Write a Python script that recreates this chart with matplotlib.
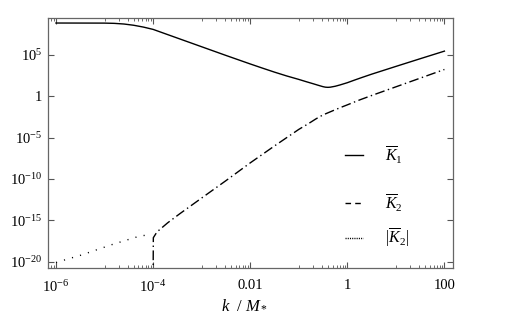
import matplotlib
matplotlib.use('Agg')
import matplotlib.pyplot as plt
import numpy as np

plt.rcParams['font.family'] = 'Liberation Serif'
plt.rcParams['mathtext.fontset'] = 'custom'
plt.rcParams['mathtext.rm'] = 'Liberation Serif'
plt.rcParams['mathtext.it'] = 'Liberation Serif:italic'

# values, as log10
k1_logk = [-6.0, -5.0, -4.8, -4.6, -4.4, -4.2, -4.0, -3.5, -3.0, -2.5, -2.0,
           -1.75, -1.5, -1.25, -1.0, -0.85, -0.7, -0.6, -0.5, -0.45, -0.4,
           -0.35, -0.25, -0.15, 0.0, 0.15, 0.3, 0.5, 0.75, 1.0, 1.5, 2.0]
k1_logv = [8.87, 8.86, 8.83, 8.75, 8.60, 8.38, 8.10, 7.05, 6.00, 4.95, 3.92,
           3.42, 2.93, 2.47, 2.05, 1.78, 1.52, 1.34, 1.17, 1.11, 1.09,
           1.11, 1.22, 1.38, 1.65, 1.97, 2.28, 2.68, 3.15, 3.62, 4.55, 5.47]

k2_logk = [-4.0, -3.995, -3.92, -3.8, -3.7, -3.45, -3.0, -2.5, -2.0, -1.5,
           -1.0, -0.8, -0.65, -0.55, -0.45, -0.35, -0.25, -0.1, 0.0, 0.26,
           0.5, 1.0, 1.5, 2.0]
k2_logv = [-22.0, -17.1, -16.4, -15.8, -15.3, -14.2, -12.3, -10.2, -8.05, -6.0,
           -4.0, -3.3, -2.74, -2.4, -2.12, -1.87, -1.62, -1.26, -1.03, -0.42,
           0.1, 1.15, 2.2, 3.25]

absk2_logk = [-6.0, -5.48, -4.83, -4.33, -4.16, -4.05]
absk2_logv = [-20.1, -19.2, -17.9, -17.0, -16.8, -16.7]

xticks = [1e-6, 1e-4, 1e-2, 1, 100]
xtick_labels = ['$10^{-6}$', '$10^{-4}$', '0.01', '1', '100']
yticks = [1e-20, 1e-15, 1e-10, 1e-5, 1, 1e5]
ytick_labels = ['$10^{-20}$', '$10^{-15}$', '$10^{-10}$', '$10^{-5}$', '1', '$10^{5}$']
legend_labels = [r'$\overline{K}_1$', r'$\overline{K}_2$', r'$|\overline{K}_2|$']

fig = plt.figure(figsize=(5.29, 3.30), dpi=100)
ax = fig.add_axes([0.0907, 0.188, 0.765, 0.7565])

k1_k = 10.0 ** np.array(k1_logk)
k2_k = 10.0 ** np.array(k2_logk)
a_k = 10.0 ** np.array(absk2_logk)

ax.plot(k1_k, 10.0 ** np.array(k1_logv), color='black', lw=1.0)
ax.plot(k2_k, 10.0 ** np.array(k2_logv), color='black', lw=1.0,
        linestyle=(0, (7, 2.5, 1, 2.5)))
ax.plot(a_k, 10.0 ** np.array(absk2_logv), color='black', lw=1.0,
        linestyle=(0, (0.8, 5.2)))

ax.set_xscale('log')
ax.set_yscale('log')
ax.set_xlim(10 ** -6.165, 10 ** 2.17)
ax.set_ylim(10 ** -20.76, 10 ** 9.44)

ax.set_xticks(xticks)
ax.set_xticklabels(xtick_labels)
minor_x = []
for d in [-7, -5, -3, -1, 1]:
    for m in range(1, 10):
        v = m * 10.0 ** d
        if 10 ** -6.165 < v < 10 ** 2.17:
            minor_x.append(v)
ax.set_xticks(minor_x, minor=True)
ax.set_xticklabels([], minor=True)
ax.set_yticks(yticks)
ax.set_yticklabels(ytick_labels)
ax.set_yticks([], minor=True)

ax.tick_params(which='both', direction='in', top=True, right=True,
               labelsize=10.5, color='#555555')
ax.tick_params(axis='x', pad=8)
ax.tick_params(axis='y', pad=4)
ax.tick_params(which='major', length=4, width=0.8)
ax.tick_params(which='minor', length=2.5, width=0.6)
for s in ax.spines.values():
    s.set_color('#666666')
    s.set_linewidth(0.9)

ax.set_xlabel(r'$k\ \ /\ M_*$', fontsize=12)
ax.xaxis.set_label_coords(0.485, -0.115)

# legend entries
styles = ['-', (0, (4, 3)), (0, (0.8, 0.8))]
ys = [0.452, 0.26, 0.12]
for st, yy, lab in zip(styles, ys, legend_labels):
    ax.plot([0.734, 0.778], [yy, yy], transform=ax.transAxes, color='black',
            lw=1.0, linestyle=st)
    ax.text(0.833, yy, lab, transform=ax.transAxes, fontsize=11.5,
            va='center', ha='left')

fig.savefig('out.png', dpi=100)
